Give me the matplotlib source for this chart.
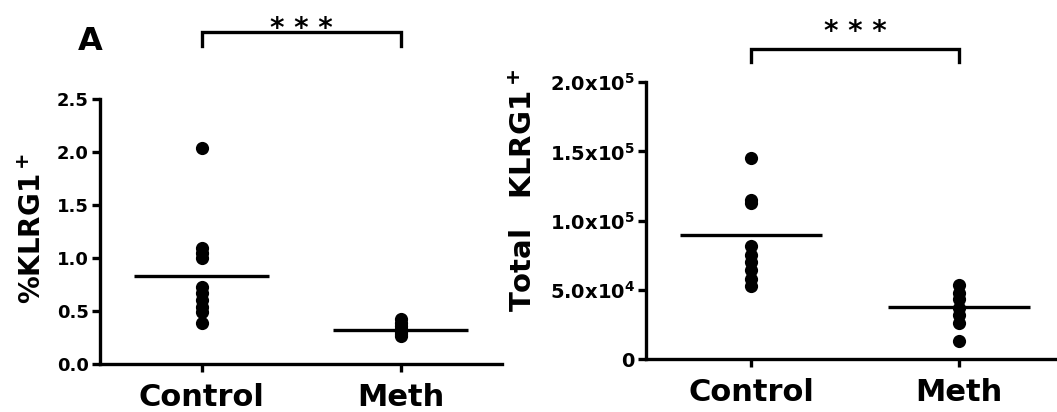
import numpy as np
import matplotlib
matplotlib.use("Agg")
import matplotlib.pyplot as plt

# ---------------------------
# Data
# ---------------------------
groups = ["Control", "Meth"]

pct_control = [2.04, 1.09, 1.05, 1.00, 0.73, 0.67, 0.60, 0.54, 0.49, 0.39]
pct_meth = [0.42, 0.39, 0.36, 0.33, 0.30, 0.28, 0.26]
pct_means = [0.83, 0.32]

tot_control = [1.45e5, 1.15e5, 1.13e5, 0.82e5, 0.75e5, 0.70e5, 0.64e5, 0.58e5, 0.53e5]
tot_meth = [0.535e5, 0.48e5, 0.43e5, 0.37e5, 0.32e5, 0.26e5, 0.13e5]
tot_means = [0.895e5, 0.375e5]

pct_ticks = [0.0, 0.5, 1.0, 1.5, 2.0, 2.5]
pct_ticklabels = ["0.0", "0.5", "1.0", "1.5", "2.0", "2.5"]
tot_ticks = [0, 0.5e5, 1.0e5, 1.5e5, 2.0e5]
tot_ticklabels = ["0", r"5.0x10$^4$", r"1.0x10$^5$", r"1.5x10$^5$", r"2.0x10$^5$"]

# ---------------------------
# Style
# ---------------------------
plt.rcParams["font.family"] = "DejaVu Sans"
plt.rcParams["font.weight"] = "bold"
plt.rcParams["mathtext.default"] = "bf"

LW = 2.4
MS = 9.5


def dot_panel(ax, ctrl, meth, means, ylim, ticks, ticklabels, tick_fs,
              ylabel, label_fs, label_xy, bracket_y, bracket_drop, star_y):
    x = np.arange(len(groups))
    ax.plot(np.full(len(ctrl), x[0]), ctrl, "o", color="black", ms=MS, mew=0)
    ax.plot(np.full(len(meth), x[1]), meth, "o", color="black", ms=MS, mew=0)
    for xi, m in zip(x, means):
        ax.plot([xi - 0.34, xi + 0.34], [m, m], color="black", lw=LW, solid_capstyle="butt")

    ax.set_ylim(*ylim)
    ax.set_yticks(ticks)
    ax.set_yticklabels(ticklabels, fontsize=tick_fs, fontweight="bold")
    ax.set_xticks(x)
    ax.set_xticklabels(groups, fontsize=22, fontweight="bold")
    ax.set_ylabel(ylabel, fontsize=label_fs, fontweight="bold")
    ax.yaxis.set_label_coords(*label_xy)

    for s in ["top", "right"]:
        ax.spines[s].set_visible(False)
    for s in ["left", "bottom"]:
        ax.spines[s].set_linewidth(LW)
    ax.tick_params(axis="both", width=LW, length=6, pad=2)
    ax.tick_params(axis="x", pad=8)

    # significance bracket
    ax.plot([x[0], x[0], x[1], x[1]],
            [bracket_y - bracket_drop, bracket_y, bracket_y, bracket_y - bracket_drop],
            color="black", lw=LW, clip_on=False, solid_joinstyle="miter")
    ax.text((x[0] + x[1]) / 2, star_y, "* * *", ha="center", va="baseline",
            fontsize=20, fontweight="bold", clip_on=False)


fig = plt.figure(figsize=(10.57, 4.12), dpi=100)

ax1 = fig.add_axes([0.0946, 0.1165, 0.3803, 0.643])
ax1.set_xlim(-0.513, 1.51)
dot_panel(ax1, pct_control, pct_meth, pct_means, (0, 2.5), pct_ticks, pct_ticklabels, 13,
          r"%KLRG1$^+$", 20, (-0.132, 0.513), 3.13, 0.13, 3.085)

ax2 = fig.add_axes([0.6112, 0.1286, 0.3888, 0.672])
ax2.set_xlim(-0.505, 1.47)
dot_panel(ax2, tot_control, tot_meth, tot_means, (0, 2.0e5), tot_ticks, tot_ticklabels, 14,
          r"Total   KLRG1$^+$", 21, (-0.262, 0.607), 2.24e5, 0.095e5, 2.303e5)

fig.text(90 / 1057, 1 - 42 / 412, "A", fontsize=23, fontweight="bold", ha="center", va="center")

fig.savefig("out.png", dpi=100)
